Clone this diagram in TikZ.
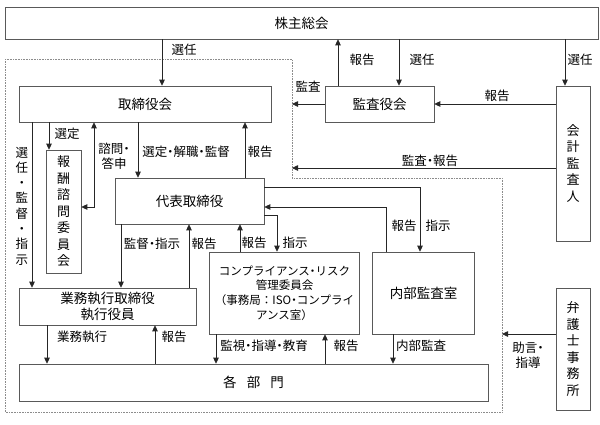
\documentclass[tikz,border=0pt]{standalone}
\usepackage{fontspec}
\setmainfont{Noto Sans CJK JP}
\usetikzlibrary{arrows.meta}
\newcommand\nd{\makebox[0.5em][c]{・}}
\begin{document}
\begin{tikzpicture}[x=1pt,y=-1pt,
 box/.style={draw=black!65, line width=0.6pt, inner sep=0pt, font=\fontsize{13.5}{16}\selectfont, align=center},
 vbox/.style={box, font=\fontsize{13}{16.5}\selectfont},
 lbl/.style={font=\fontsize{12.5}{14.5}\selectfont, inner sep=0pt, align=center},
 arr/.style={draw=black!85, line width=0.8pt, -{Triangle[length=6pt,width=5.5pt]}},
 arrboth/.style={draw=black!85, line width=0.8pt, {Triangle[length=6pt,width=5.5pt]}-{Triangle[length=6pt,width=5.5pt]}},
 dotbound/.style={draw=black!45, line width=0.6pt, densely dotted}]
\fill[white] (0,0) rectangle (600,424);
\useasboundingbox (0,0) rectangle (600,424);

% dotted company boundary
\draw[dotbound] (5,59) -- (292,59) -- (292,178) -- (502,178) -- (502,412) -- (5,412) -- cycle;

% boxes
\node[box, minimum width=593pt, minimum height=32pt] (sh) at (301.5,23) {株主総会};
\node[box, minimum width=252pt, minimum height=36pt] (tori) at (145,104) {取締役会};
\node[box, minimum width=109pt, minimum height=36pt] (kansa) at (379.5,104) {監査役会};
\node[vbox, minimum width=34pt, minimum height=155pt] (kaikei) at (573,163.5) {会\\計\\監\\査\\人};
\node[vbox, minimum width=35pt, minimum height=123pt] (hoshu) at (63.5,211.5) {報\\酬\\諮\\問\\委\\員\\会};
\node[box, minimum width=149pt, minimum height=46pt] (daihyo) at (189.5,201) {代表取締役};
\node[box, minimum width=177pt, minimum height=37pt] (gyomu) at (107.5,306.5) {業務執行取締役\\執行役員};
\node[box, minimum width=150pt, minimum height=82pt, font=\fontsize{11.5}{14.7}\selectfont] (comp) at (284.5,293) {コンプライアンス\nd リスク\\管理委員会\\（事務局：ISO\nd コンプライ\\アンス室）};
\node[box, minimum width=102pt, minimum height=82pt] (naibu) at (423.5,293) {内部監査室};
\node[box, minimum width=469pt, minimum height=37pt] (kakubu) at (253.5,382.5) {各\hspace{0.75em}部\hspace{0.75em}門};
\node[vbox, minimum width=34pt, minimum height=122pt] (bengo) at (573,349) {弁\\護\\士\\事\\務\\所};

% x positions / bends
\coordinate (c162) at (162,0);
\coordinate (c338) at (338,0);
\coordinate (c399) at (399,0);
\coordinate (c565) at (565,0);
\coordinate (c32) at (32,0);
\coordinate (c49) at (49,0);
\coordinate (c138) at (138,0);
\coordinate (c245) at (245,0);
\coordinate (c121) at (121,0);
\coordinate (c189) at (189,0);
\coordinate (c240) at (240,0);
\coordinate (c47) at (47,0);
\coordinate (c155) at (155,0);
\coordinate (c216) at (216,0);
\coordinate (c325) at (325,0);
\coordinate (c393) at (393,0);
\coordinate (s1) at (420,187);
\coordinate (s2) at (386,207);
\coordinate (s3) at (277,215);
\coordinate (s4) at (94,207);
\coordinate (ak) at (292,168);
\coordinate (jo) at (502,334);

% top connectors
\draw[arr] (sh.south -| c162) -- (tori.north -| c162);
\draw[arr] (kansa.north -| c338) -- (sh.south -| c338);
\draw[arr] (sh.south -| c399) -- (kansa.north -| c399);
\draw[arr] (sh.south -| c565) -- (kaikei.north -| c565);
\draw[arr] (kansa.west) -- (kansa.west -| ak);
\draw[arr] (kaikei.west |- kansa.east) -- (kansa.east);
\draw[arr] (kaikei.west |- ak) -- (ak);
\draw[arr] (bengo.west |- jo) -- (jo);

% board area
\draw[arr] (tori.south -| c32) -- (gyomu.north -| c32);
\draw[arr] (tori.south -| c49) -- (hoshu.north -| c49);
\draw[arrboth] (tori.south -| s4) -- (s4) -- (hoshu.east |- s4);
\draw[arr] (tori.south -| c138) -- (daihyo.north -| c138);
\draw[arr] (daihyo.north -| c245) -- (tori.south -| c245);
\draw[arr] (daihyo.south -| c121) -- (gyomu.north -| c121);
\draw[arr] (gyomu.north -| c189) -- (daihyo.south -| c189);
\draw[arr] (comp.north -| c240) -- (daihyo.south -| c240);
\draw[arr] (daihyo.east |- s3) -- (s3) -- (comp.north -| s3);
\draw[arr] (daihyo.east |- s1) -- (s1) -- (naibu.north -| s1);
\draw[arr] (naibu.north -| s2) -- (s2) -- (daihyo.east |- s2);
\draw[arr] (gyomu.south -| c47) -- (kakubu.north -| c47);
\draw[arr] (kakubu.north -| c155) -- (gyomu.south -| c155);
\draw[arr] (comp.south -| c216) -- (kakubu.north -| c216);
\draw[arr] (kakubu.north -| c325) -- (comp.south -| c325);
\draw[arr] (naibu.south -| c393) -- (kakubu.north -| c393);

% labels
\node[lbl] (l1) at (184,50) {選任};
\node[lbl] (l2) at (362,60) {報告};
\node[lbl] (l3) at (422,60) {選任};
\node[lbl] (l4) at (580,60) {選任};
\node[lbl] (l5) at (308,87) {監査};
\node[lbl] (l6) at (497,96) {報告};
\node[lbl] (l7) at (430,161) {監査\nd 報告};
\node[lbl] (l8) at (67,134) {選定};
\node[lbl, font=\fontsize{12.5}{15.3}\selectfont] (l9) at (22,206) {選\\任\\・\\監\\督\\・\\指\\示};
\node[lbl] (l10) at (114,156) {諮問\nd\\答申};
\node[lbl] (l11) at (186,152) {選定\nd 解職\nd 監督};
\node[lbl] (l12) at (260,152) {報告};
\node[lbl] (l13) at (152,244) {監督\nd 指示};
\node[lbl] (l14) at (204,244) {報告};
\node[lbl] (l15) at (254,243) {報告};
\node[lbl] (l16) at (295,243) {指示};
\node[lbl] (l17) at (404,226) {報告};
\node[lbl] (l18) at (438,226) {指示};
\node[lbl] (l19) at (82,337) {業務執行};
\node[lbl] (l20) at (174,337) {報告};
\node[lbl] (l21) at (264,346) {監視\nd 指導\nd 教育};
\node[lbl] (l22) at (346,346) {報告};
\node[lbl] (l23) at (421,346) {内部監査};
\node[lbl] (l24) at (528,355) {助言\nd\\指導};
\end{tikzpicture}
\end{document}
